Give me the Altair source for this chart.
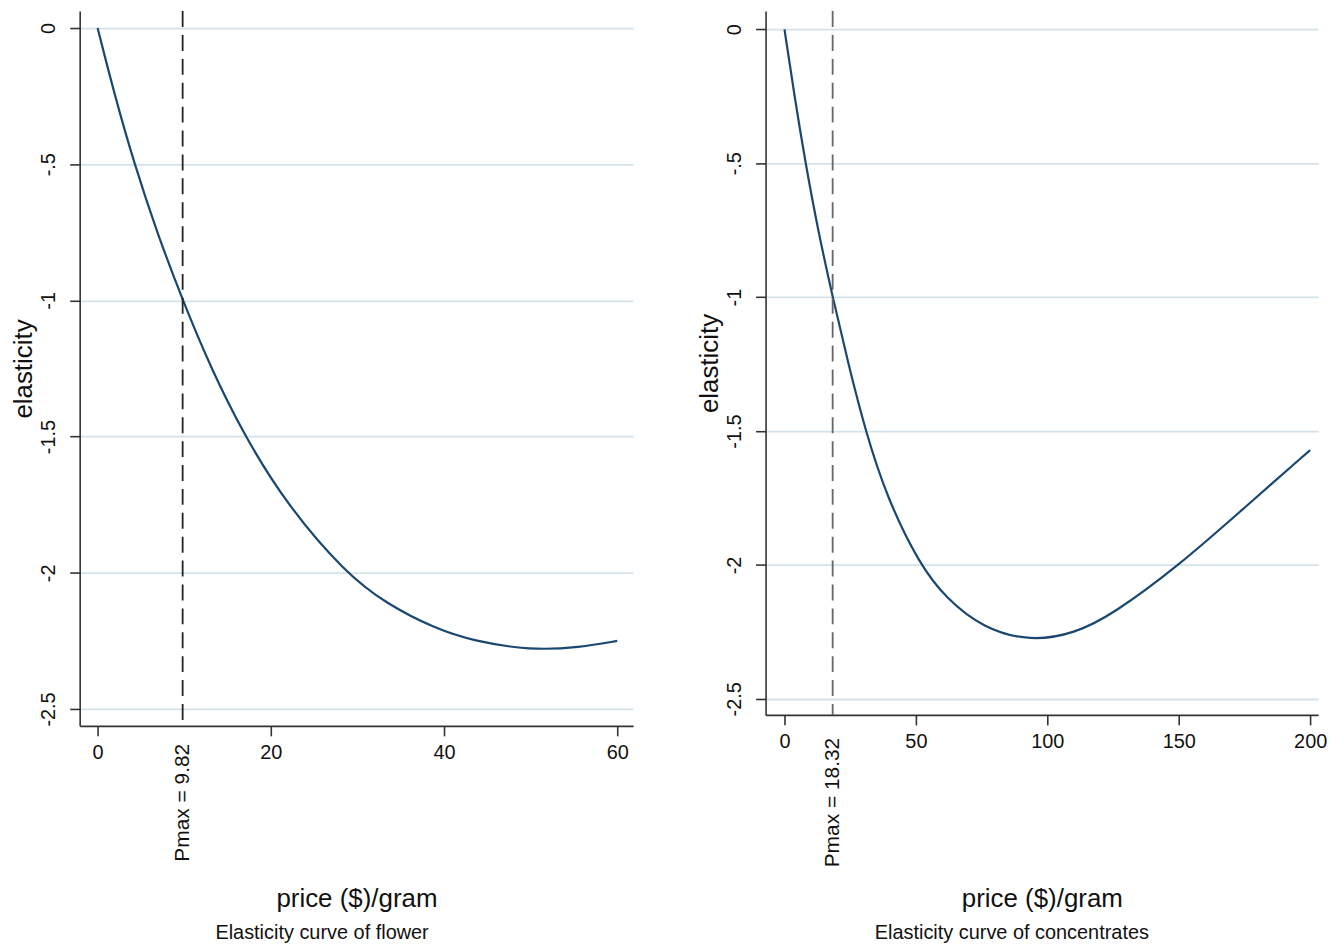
import altair as alt
import pandas as pd

# ---- data ----
flower_price = [0, 2.0, 4.25, 6.85, 9.82, 13.1, 17.0, 21.85, 28.6, 33.4, 39, 43.3, 50, 55.7, 60]
flower_elast = [0, -0.25, -0.5, -0.75, -1.0, -1.25, -1.5, -1.75, -2.0, -2.115, -2.205, -2.25, -2.285, -2.274, -2.25]

conc_price = [0, 3.8, 8.0, 12.75, 18.32, 24.3, 30.8, 39.0, 51.5, 61.5, 75.5, 93.7, 110.5, 124.5, 150.3, 173.4, 200]
conc_elast = [0, -0.25, -0.5, -0.75, -1.0, -1.25, -1.5, -1.75, -2.0, -2.125, -2.236, -2.286, -2.255, -2.187, -2.0, -1.80, -1.571]

y_ticks = [0, -0.5, -1, -1.5, -2, -2.5]
y_labels = ["0", "-.5", "-1", "-1.5", "-2", "-2.5"]
flower_xticks = [0, 20, 40, 60]
conc_xticks = [0, 50, 100, 150, 200]
pmax_flower = 9.82
pmax_conc = 18.32
pmax_flower_label = "Pmax = 9.82"
pmax_conc_label = "Pmax = 18.32"
x_title = "price ($)/gram"
y_title = "elasticity"
flower_caption = "Elasticity curve of flower"
conc_caption = "Elasticity curve of concentrates"

FONT = "Liberation Sans"
TXT = "#111111"
LINE = "#1a476f"
GRID = "#d4e2eb"
AX = "#333333"

y_label_expr = " : ".join(f"datum.value == {v} ? '{l}'" for v, l in zip(y_ticks, y_labels)) + " : ''"


def panel(prices, elast, xticks, xdom, ydom, pmax, pmax_label, dash_color,
          caption, w, h, x_title_pad, pmax_off, cap_off):
    df = pd.DataFrame({"price": prices, "elasticity": elast})
    x_enc = alt.X(
        "price:Q",
        scale=alt.Scale(domain=xdom, nice=False, zero=False),
        axis=alt.Axis(values=xticks, title=x_title, grid=False, format="d",
                      labelFont=FONT, labelFontSize=20, labelColor=TXT, labelPadding=7,
                      titleFont=FONT, titleFontSize=26, titleFontWeight="normal",
                      titleColor=TXT, titlePadding=x_title_pad,
                      domainColor=AX, domainWidth=1.6, tickColor=AX, tickWidth=1.6,
                      tickSize=10),
    )
    y_enc = alt.Y(
        "elasticity:Q",
        scale=alt.Scale(domain=ydom, nice=False, zero=False),
        axis=alt.Axis(values=y_ticks, labelExpr=y_label_expr, title=y_title,
                      grid=True, gridColor=GRID, gridWidth=1.8,
                      labelFont=FONT, labelFontSize=20, labelColor=TXT,
                      labelAngle=270, labelAlign="center", labelBaseline="bottom",
                      labelPadding=11,
                      titleFont=FONT, titleFontSize=26, titleFontWeight="normal",
                      titleColor=TXT, titlePadding=2,
                      domainColor=AX, domainWidth=1.6, tickColor=AX, tickWidth=1.6,
                      tickSize=10),
    )
    curve = alt.Chart(df).mark_line(color=LINE, strokeWidth=2.2, interpolate="basis").encode(
        x=x_enc, y=y_enc
    )
    pdf = pd.DataFrame({"price": [pmax], "label": [pmax_label]})
    rule = alt.Chart(pdf).mark_rule(color=dash_color, strokeWidth=1.8, strokeDash=[16, 8]).encode(
        x="price:Q"
    )
    txt = alt.Chart(pdf).mark_text(angle=270, align="right", baseline="middle",
                                   font=FONT, fontSize=21, color=TXT).encode(
        x="price:Q", y=alt.value(h + pmax_off), text="label:N"
    )
    return alt.layer(curve, rule, txt).properties(
        width=w, height=h,
        title=alt.TitleParams(caption, orient="bottom", anchor="middle", frame="bounds",
                              font=FONT, fontSize=20, fontWeight="normal", color=TXT,
                              offset=cap_off),
    )


left = panel(flower_price, flower_elast, flower_xticks, [-2.07, 61.84], [-2.562, 0.062],
             pmax_flower, pmax_flower_label, "#222222", flower_caption,
             556, 718, 123, 18, 12)
right = panel(conc_price, conc_elast, conc_xticks, [-7.2, 203], [-2.56, 0.068],
              pmax_conc, pmax_conc_label, "#666666", conc_caption,
              555, 707, 134, 23, 12)

chart = alt.hconcat(left, right, spacing=64).properties(
    padding={"left": 3, "top": 0, "right": 5, "bottom": 0}
).configure_view(strokeWidth=0)

chart.save("out.html", embed_options={"renderer": "svg", "actions": False})
